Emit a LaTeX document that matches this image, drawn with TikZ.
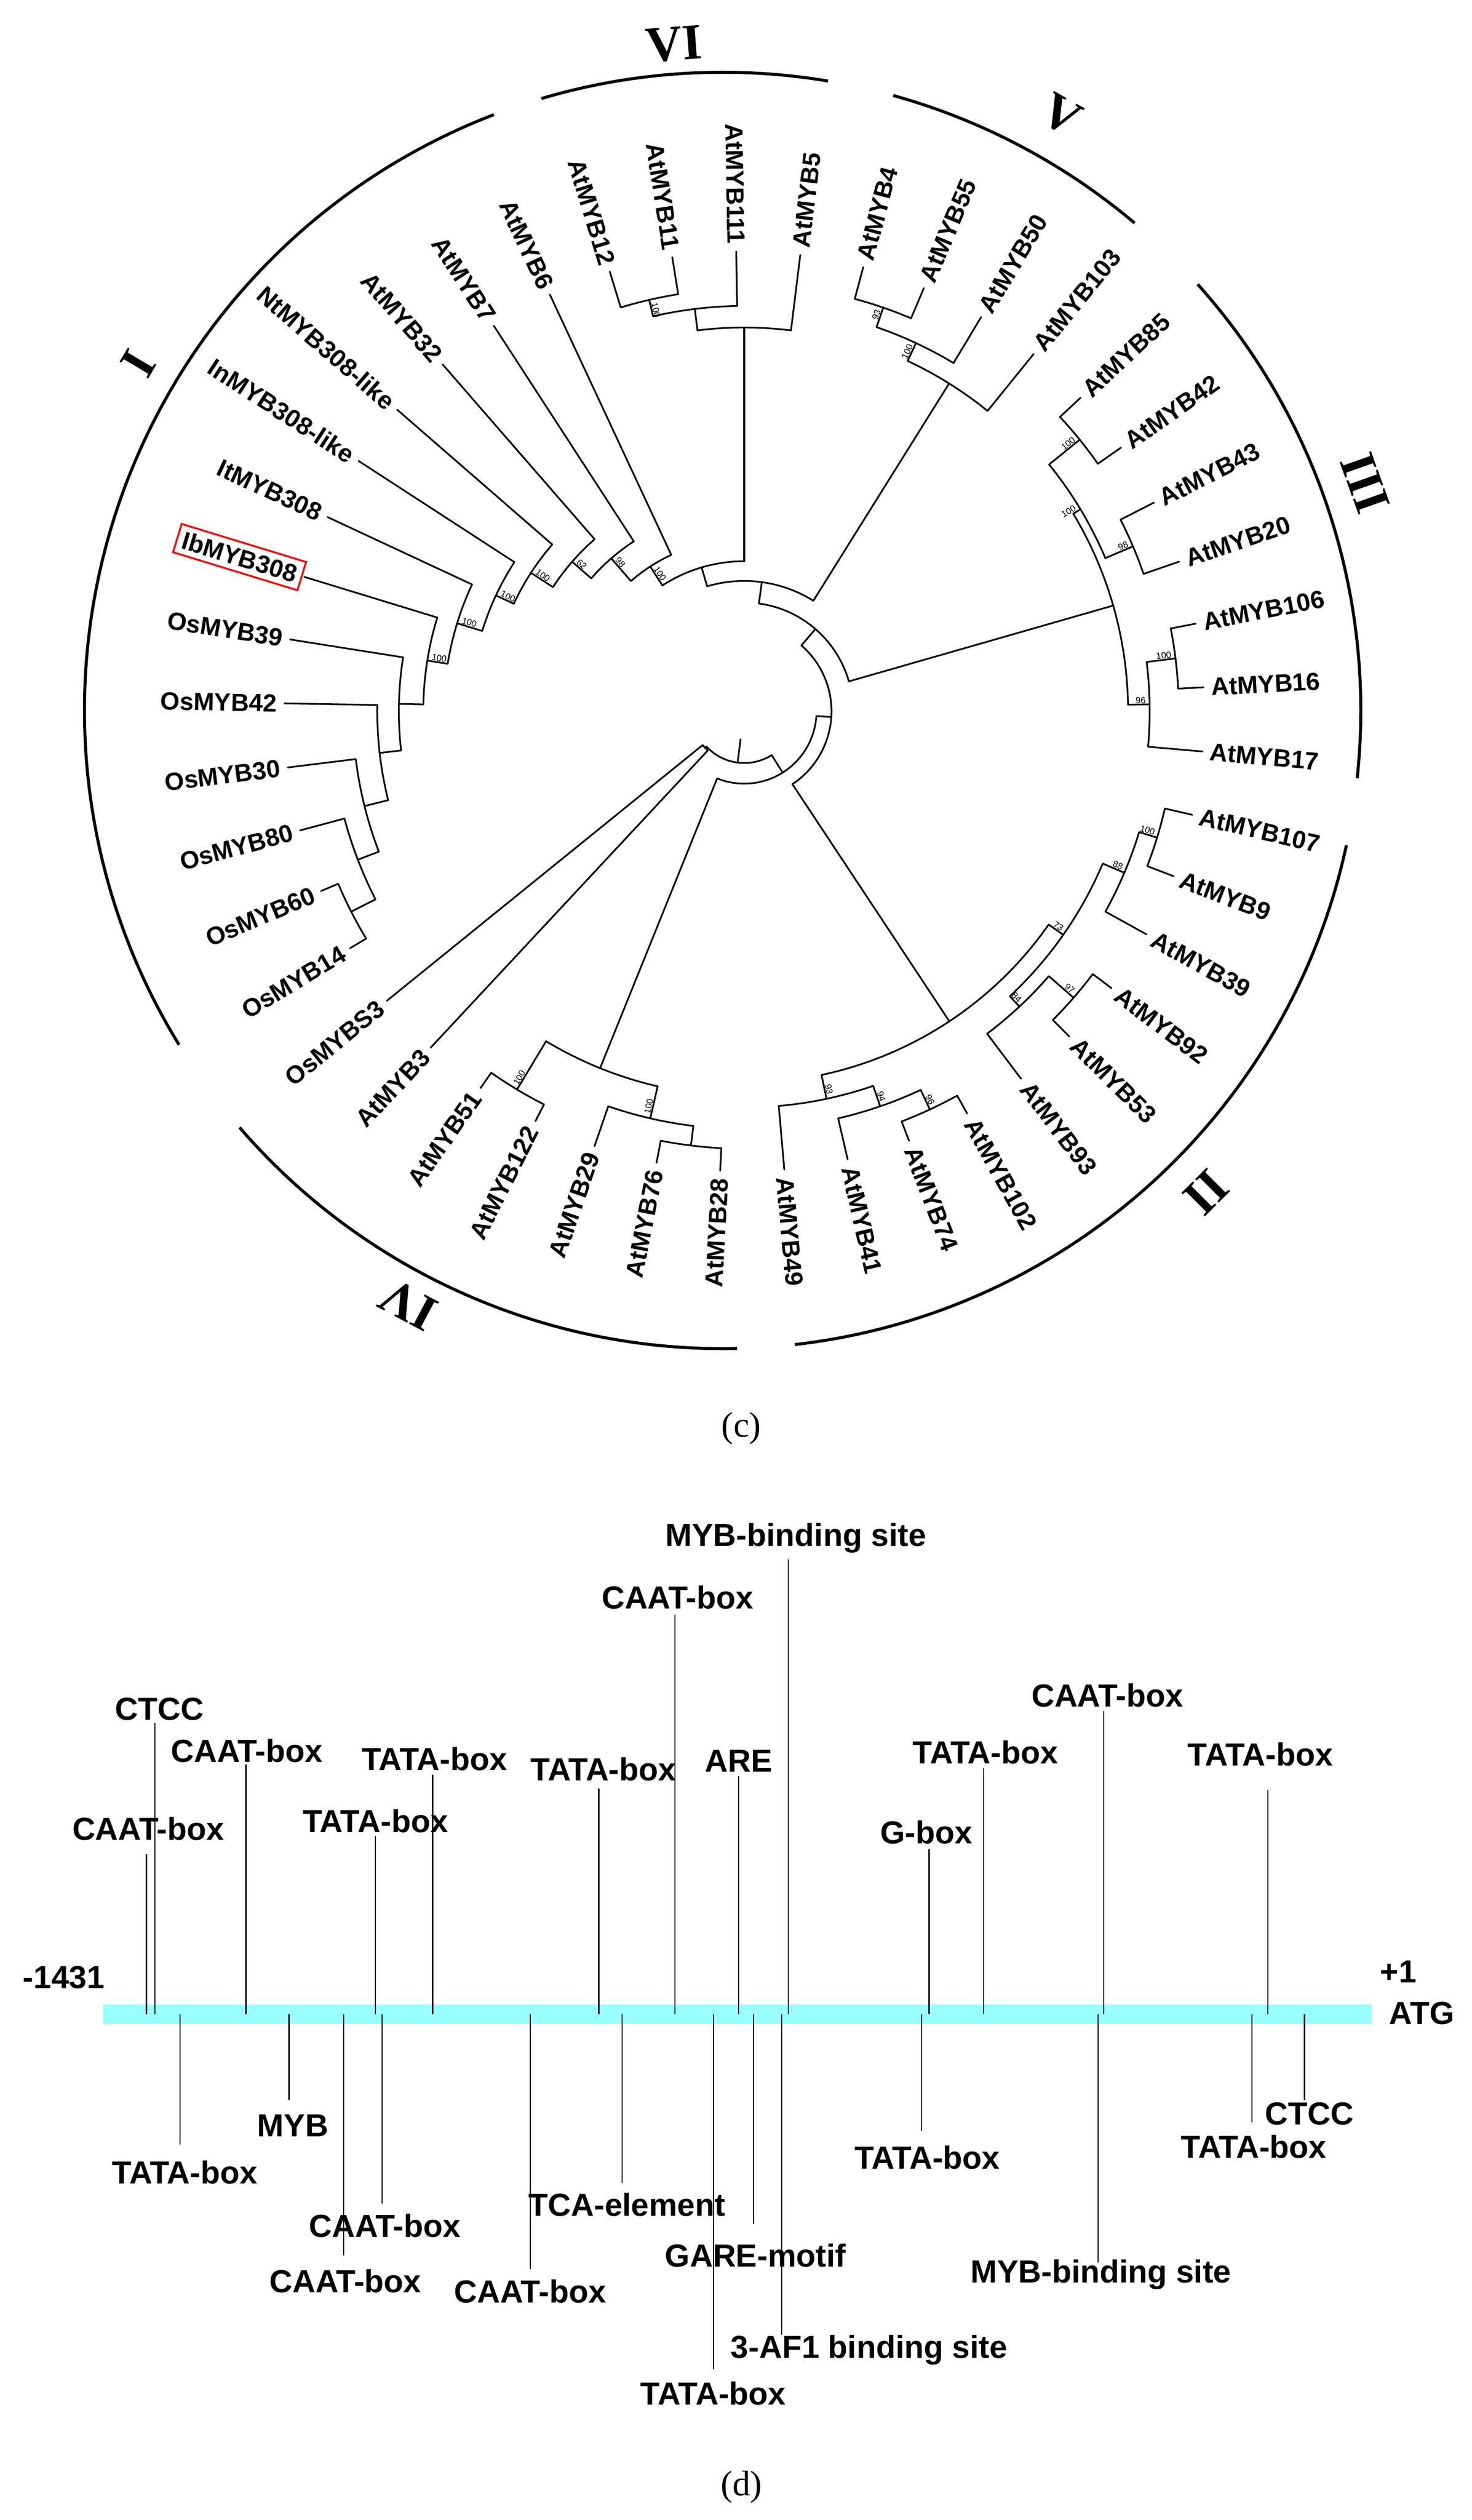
\documentclass[tikz,border=0pt]{standalone}
\usepackage{fontspec}
\setmainfont{Liberation Sans}
\newfontfamily\seriffam{Liberation Serif}
\usetikzlibrary{calc}
\definecolor{barcyan}{RGB}{153,255,255}
\tikzset{
 br/.style={line width=1.8pt, line cap=round},
 cl/.style={line width=3.2pt},
 lab/.style={font=\bfseries\fontsize{26.5}{30}\selectfont, inner sep=0pt},
 bsl/.style={font=\fontsize{9.5}{10}\selectfont, inner sep=1pt},
 rom/.style={font=\seriffam\bfseries\fontsize{54}{60}\selectfont, inner sep=0pt},
 dl/.style={font=\bfseries\fontsize{34}{38}\selectfont, inner sep=0pt},
 dline/.style={line width=1.2pt},
}
\newcommand\inode[4]{%
 \pgfmathsetmacro\mA{(#2+#3)/2}%
 \draw[br] ($(O)+(#2:#1)$) arc[start angle=#2,end angle=#3,radius=#1];
 \draw[br] ($(O)+(\mA:#4)$) -- ($(O)+(\mA:#1)$);}
\newcommand\leaf[4]{%
 \draw[br] ($(O)+(#2:#3)$) -- ($(O)+(#2:490)$);
 \pgfmathsetmacro\cs{cos(#2)}%
 \ifdim\cs pt<0pt
  \node[lab,rotate=#2+180,anchor=east] (#1) at ($(O)+(#2:498)$) {#4};
 \else
  \node[lab,rotate=#2,anchor=west] (#1) at ($(O)+(#2:498)$) {#4};
 \fi}
\newcommand\bs[3]{%
 \pgfmathsetmacro\cs{cos(#1)}%
 \ifdim\cs pt<0pt
  \node[bsl,rotate=#1+180,anchor=south west] at ($(O)+(#1:#2-3)$) {#3};
 \else
  \node[bsl,rotate=#1,anchor=south east] at ($(O)+(#1:#2-3)$) {#3};
 \fi}
\begin{document}
\begin{tikzpicture}[x=1pt,y=1pt]
\useasboundingbox (0,0) rectangle (1568,2685);
\fill[white] (0,0) rectangle (1568,2685);
\coordinate (O) at (793,1927);
\coordinate (C) at (770,1928);
% ---------- tree internal nodes
\inode{470}{203}{211}{441}
\inode{441}{195}{207}{417}
\inode{417}{187}{201}{391}
\inode{391}{179}{194}{368}
\inode{368}{171}{186.5}{342}
\inode{342}{163}{178.75}{320}
\inode{320}{155}{170.875}{292}
\inode{292}{147}{162.9375}{271}
\inode{271}{139}{154.96875}{243}
\inode{243}{131}{146.984}{216}
\inode{216}{123}{138.992}{184}
\inode{184}{115}{130.996}{160}
\inode{450}{99}{107}{432}
\inode{432}{91}{103}{409}
\inode{409}{83}{97}{160}
\inode{160}{90}{123}{139}
\inode{455}{67}{75}{433}
\inode{433}{59}{71}{412}
\inode{412}{51}{65}{139}
\inode{139}{58}{106.5}{116}
\inode{460}{35}{43}{418}
\inode{450}{19}{27}{418}
\inode{418}{23}{39}{409}
\inode{463}{3}{11}{432}
\inode{432}{-5}{7}{409}
\inode{409}{1}{31}{116}
\inode{116}{16}{82.25}{93}
\inode{460}{-21}{-13}{440}
\inode{440}{-29}{-17}{415}
\inode{465}{-45}{-37}{430}
\inode{430}{-53}{-41}{415}
\inode{415}{-47}{-23}{396}
\inode{468}{-69}{-61}{445}
\inode{445}{-77}{-65}{422}
\inode{422}{-85}{-71}{396}
\inode{396}{-78}{-35}{93}
\inode{93}{-56.5}{49.125}{77}
\inode{466}{-101}{-93}{445}
\inode{445}{-109}{-97}{410}
\inode{470}{-125}{-117}{410}
\inode{410}{-121}{-103}{77}
\inode{77}{-112}{-3.6875}{55}
\inode{57}{-141}{-133}{55}
\inode{55}{-137}{-57.84}{30}
% ---------- leaves
\leaf{nt}{139}{271}{NtMYB308-like}
\leaf{in}{147}{292}{InMYB308-like}
\leaf{it}{155}{320}{ItMYB308}
\draw[br] ($(O)+(163:342)$) -- ($(O)+(163:490)$);
\node[lab,rotate=-17,anchor=east,draw=red,line width=2pt,inner sep=6pt] (ib) at ($(O)+(163:492)$) {IbMYB308};
\leaf{os39}{171}{368}{OsMYB39}
\leaf{os42}{179}{391}{OsMYB42}
\leaf{os30}{187}{417}{OsMYB30}
\leaf{os80}{195}{441}{OsMYB80}
\leaf{os60}{203}{470}{OsMYB60}
\leaf{os14}{211}{470}{OsMYB14}
\leaf{a32}{131}{243}{AtMYB32}
\leaf{a7}{123}{216}{AtMYB7}
\leaf{a6}{115}{184}{AtMYB6}
\leaf{a12}{107}{450}{AtMYB12}
\leaf{a11}{99}{450}{AtMYB11}
\leaf{a111}{91}{432}{AtMYB111}
\leaf{a5}{83}{409}{AtMYB5}
\leaf{a4}{75}{455}{AtMYB4}
\leaf{a55}{67}{455}{AtMYB55}
\leaf{a50}{59}{433}{AtMYB50}
\leaf{a103}{51}{412}{AtMYB103}
\leaf{a85}{43}{460}{AtMYB85}
\leaf{a42}{35}{460}{AtMYB42}
\leaf{a43}{27}{450}{AtMYB43}
\leaf{a20}{19}{450}{AtMYB20}
\leaf{a106}{11}{463}{AtMYB106}
\leaf{a16}{3}{463}{AtMYB16}
\leaf{a17}{-5}{432}{AtMYB17}
\leaf{a107}{-13}{460}{AtMYB107}
\leaf{a9}{-21}{460}{AtMYB9}
\leaf{a39}{-29}{440}{AtMYB39}
\leaf{a92}{-37}{465}{AtMYB92}
\leaf{a53}{-45}{465}{AtMYB53}
\leaf{a93}{-53}{430}{AtMYB93}
\leaf{a102}{-61}{468}{AtMYB102}
\leaf{a74}{-69}{468}{AtMYB74}
\leaf{a41}{-77}{445}{AtMYB41}
\leaf{a49}{-85}{422}{AtMYB49}
\leaf{a28}{-93}{466}{AtMYB28}
\leaf{a76}{-101}{466}{AtMYB76}
\leaf{a29}{-109}{445}{AtMYB29}
\leaf{a122}{-117}{470}{AtMYB122}
\leaf{a51}{-125}{470}{AtMYB51}
\leaf{a3}{-133}{57}{AtMYB3}
\leaf{s3}{-141}{57}{OsMYBS3}
% ---------- bootstrap values
\bs{170.875}{342}{100}\bs{162.94}{320}{100}\bs{154.97}{292}{100}\bs{146.98}{271}{100}
\bs{138.99}{243}{62}\bs{130.99}{216}{98}\bs{123}{184}{100}\bs{103}{450}{100}
\bs{71}{455}{93}\bs{65}{433}{100}\bs{39}{460}{100}\bs{23}{450}{98}\bs{31}{418}{100}
\bs{7}{463}{100}\bs{1}{432}{96}\bs{-17}{460}{100}\bs{-23}{440}{88}\bs{-35}{415}{73}
\bs{-47}{430}{84}\bs{-41}{465}{97}\bs{-78}{422}{93}\bs{-71}{445}{94}\bs{-65}{468}{96}
\bs{-103}{445}{100}\bs{-121}{470}{100}
% ---------- clade arcs
\draw[cl] ($(C)+(111:680)$) arc[start angle=111,end angle=211.6,radius=680];
\draw[cl] ($(C)+(80.5:680)$) arc[start angle=80.5,end angle=106.5,radius=680];
\draw[cl] ($(C)+(49.8:680)$) arc[start angle=49.8,end angle=74.5,radius=680];
\draw[cl] ($(C)+(-6.1:680)$) arc[start angle=-6.1,end angle=41.9,radius=680];
\draw[cl] ($(C)+(-83.5:680)$) arc[start angle=-83.5,end angle=-12.2,radius=680];
\draw[cl] ($(C)+(-139.2:680)$) arc[start angle=-139.2,end angle=-88.7,radius=680];
\node[rom,rotate=59.3] (rI) at ($(C)+(149.3:724)$) {I};
\node[rom,rotate=4.2] (rVI) at ($(C)+(94.2:712)$) {VI};
\node[rom,rotate=-29.6] (rV) at ($(C)+(60.4:730)$) {V};
\node[rom,rotate=-70.5] (rIII) at ($(C)+(19.5:726)$) {III};
\node[rom,rotate=-134.9] (rII) at ($(C)+(-44.9:727)$) {II};
\node[rom,rotate=152.1] (rIV) at ($(C)+(-117.9:716)$) {IV};
\node[font=\seriffam\fontsize{38}{42}\selectfont] (capc) at (790,1163) {(c)};
% ---------- part d
\fill[barcyan] (110,528.7) rectangle (1462,549.3);
\coordinate (bar) at (0,539);
\node[dl] (m1431) at (68,578) {-1431};
\node[dl] (p1) at (1490,584) {+1};
\node[dl] (atg) at (1515,540) {ATG};
\foreach \x/\ly/\lt/\lx/\t in {
 156/736.4/709.1/158/CAAT-box, 165/863.8/849.1/170/CTCC, 262/819.6/804.9/263/CAAT-box,
 400/744.5/729.0/400/TATA-box, 461/810.8/793.8/463/TATA-box, 638/799.7/779.1/643/TATA-box,
 719/983.1/964.7/722/CAAT-box, 787/808.6/792.4/787/ARE, 840/1046.4/1023.6/848/MYB-binding site,
 990/732.7/715.0/987/G-box, 1048/818.1/801.2/1050/TATA-box, 1176/878.5/861.6/1180/CAAT-box,
 1351/815.9/777.6/1343/TATA-box}{
 \node[dl] (u\x) at (\lx,\ly) {\t};
 \draw[dline] (\x,539) -- (\x,\lt);
}
\foreach \x/\ly/\lt/\lx/\t in {
 192/370.3/399.8/197/TATA-box, 308/420.4/447.7/312/MYB, 407/313.6/337.2/410/CAAT-box,
 366/254.7/282.0/368/CAAT-box, 565/243.7/267.2/565/CAAT-box, 663/335.7/359.3/668/TCA-element,
 803/282.0/315.1/805/GARE-motif, 760/134.6/160.4/760/TATA-box, 833/181.1/197.3/926/3-AF1 binding site,
 982/386.5/414.5/988/TATA-box, 1170/261.3/274.6/1173/MYB-binding site, 1334/397.6/424.1/1336/TATA-box,
 1390/432.9/447.7/1395/CTCC}{
 \node[dl] (d\x) at (\lx,\ly) {\t};
 \draw[dline] (\x,539) -- (\x,\lt);
}
\node[font=\seriffam\fontsize{38}{42}\selectfont] (capd) at (790,35) {(d)};
\end{tikzpicture}
\end{document}
